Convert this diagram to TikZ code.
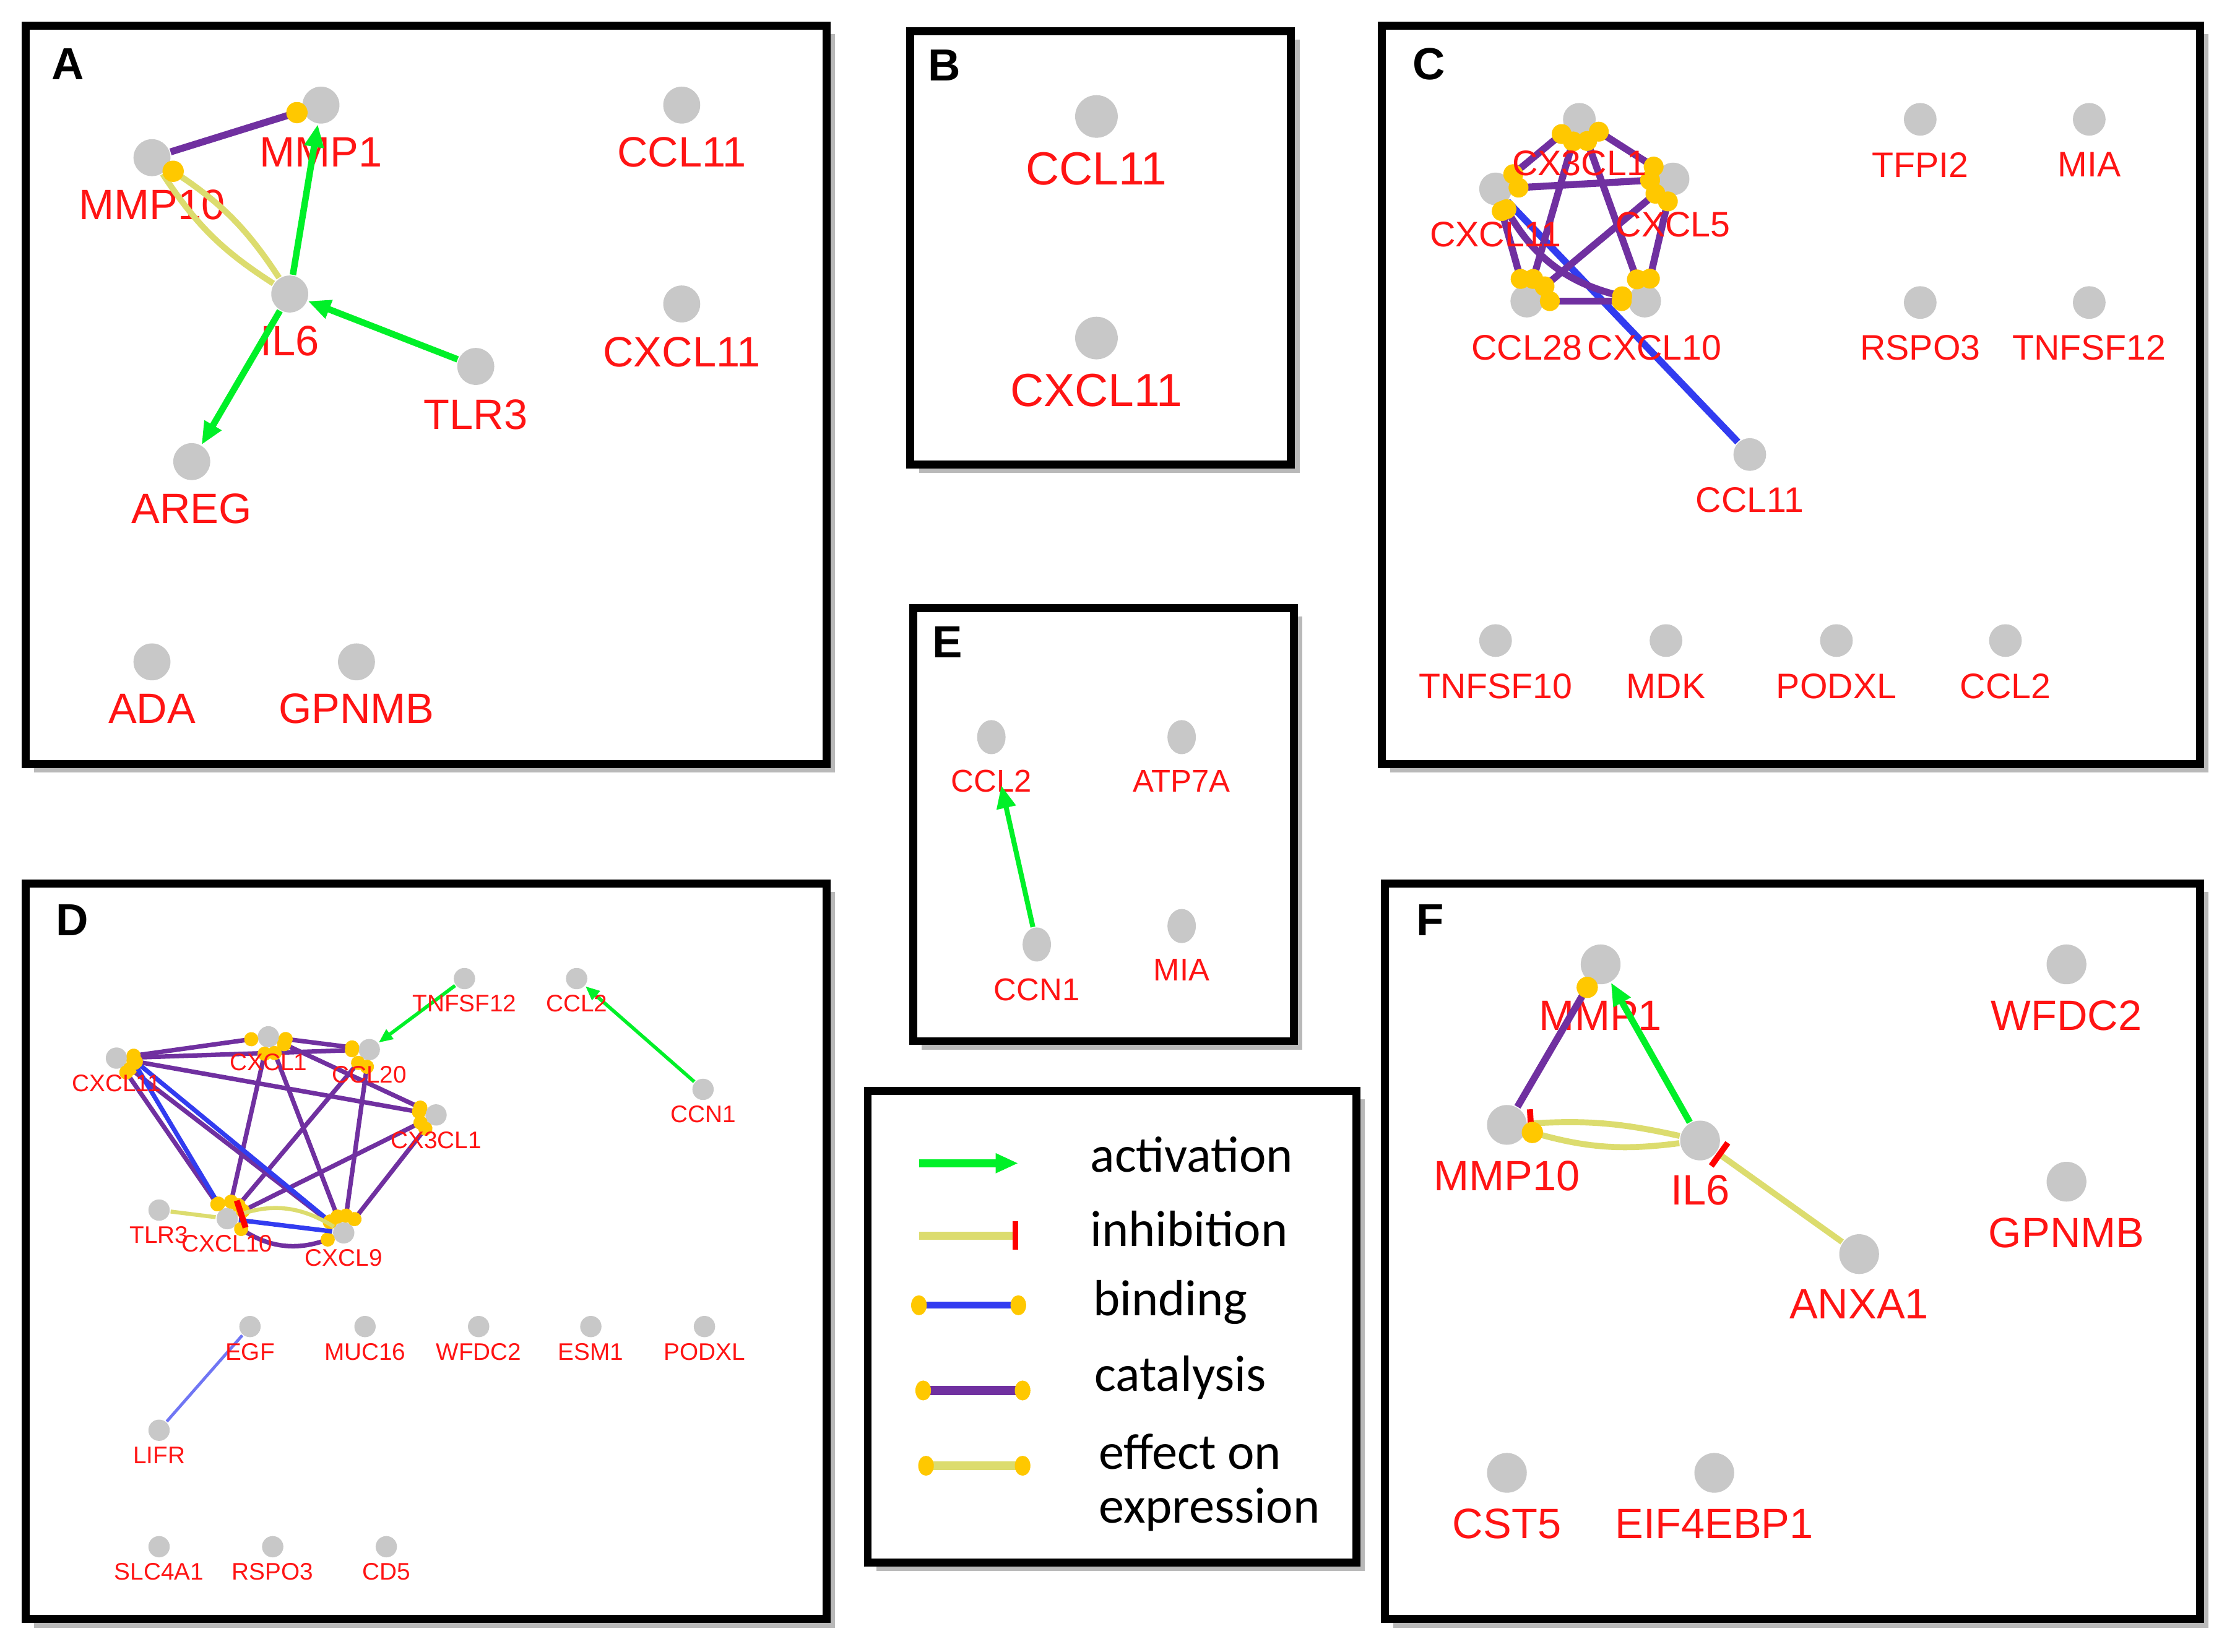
\documentclass[tikz,border=0pt]{standalone}
\usepackage{fontspec}
\setmainfont{Liberation Sans}
\newfontfamily\legf{Carlito}
\usetikzlibrary{shapes.geometric,arrows.meta,decorations.markings}
\definecolor{gnode}{RGB}{200,200,200}
\definecolor{dotc}{RGB}{255,200,0}
\definecolor{cat}{RGB}{112,48,160}
\definecolor{bind}{RGB}{50,60,240}
\definecolor{act}{RGB}{0,240,40}
\definecolor{eff}{RGB}{220,220,110}
\definecolor{lab}{RGB}{255,20,20}
\tikzset{
 g/.style={ellipse,fill=gnode,inner sep=0,minimum width=#1,minimum height=#1},
 g/.default=0.26cm,
 la/.style={text=lab,inner sep=0,font=\fontsize{8.5}{9}\selectfont},
 lb/.style={text=lab,inner sep=0,font=\fontsize{9.3}{10}\selectfont},
 lc/.style={text=lab,inner sep=0,font=\fontsize{7.1}{8}\selectfont},
 ld/.style={text=lab,inner sep=0,font=\fontsize{4.8}{5}\selectfont},
 le/.style={text=lab,inner sep=0,font=\fontsize{6.3}{7}\selectfont},
 pl/.style={font=\bfseries\fontsize{9}{10}\selectfont,inner sep=0},
 frame/.style={line width=1.6pt},
 shadow/.style={fill=gray!55},
 dr/.store in=\dotr, dr=0.075cm,
 dS/.style={postaction={decorate,decoration={markings,mark=at position 0.04cm with {\fill[dotc] (0,0) circle (\dotr);}}}},
 dE/.style={postaction={decorate,decoration={markings,mark=at position -0.04cm with {\fill[dotc] (0,0) circle (\dotr);}}}},
 dB/.style={dS,dE},
 catl/.style={draw=cat,line width=1.4pt},
 catd/.style={draw=cat,line width=0.9pt},
 bindl/.style={draw=bind,line width=1.4pt},
 bindd/.style={draw=bind,line width=0.9pt},
 effl/.style={draw=eff,line width=1.2pt},
 actl/.style={draw=act,line width=1.3pt,-{Triangle[length=0.16cm,width=0.13cm]}},
 actd/.style={draw=act,line width=0.7pt,-{Triangle[length=0.1cm,width=0.08cm]}},
 inh/.style={-{Bar[color=red,width=0.2cm,line width=1.2pt]}},
}
\begin{document}
\begin{tikzpicture}[x=0.01cm,y=-0.01cm]
\useasboundingbox[fill=white] (0,0) rectangle (1568,1163);
% frames
\foreach \a/\b/\c/\d in {18/18/582/538, 641/22/909/327, 973/18/1549/538, 18/622/582/1140, 643/428/911/733, 975/622/1549/1140, 611/768/955/1100}{
 \fill[shadow] (\a+6,\b+6) rectangle (\c+6,\d+6);
 \fill[white] (\a,\b) rectangle (\c,\d);
 \draw[frame] (\a,\b) rectangle (\c,\d);}
\node[pl] (pA) at (48,45) {A};
\node[pl] (pB) at (665,46) {B};
\node[pl] (pC) at (1006,45) {C};
\node[pl] (pD) at (51,648) {D};
\node[pl] (pE) at (667,452) {E};
\node[pl] (pF) at (1007,648) {F};
% ---------- A
\node[g] (a1) at (226,74) {}; \node[la] (a1l) at (226,107) {MMP1};
\node[g] (a2) at (107,111) {}; \node[la] (a2l) at (107,144) {MMP10};
\node[g] (a3) at (204,207) {}; \node[la] (a3l) at (204,240) {IL6};
\node[g] (a4) at (335,258) {}; \node[la] (a4l) at (335,292) {TLR3};
\node[g] (a5) at (135,325) {}; \node[la] (a5l) at (135,358) {AREG};
\node[g] (a6) at (480,74) {}; \node[la] (a6l) at (480,107) {CCL11};
\node[g] (a7) at (480,214) {}; \node[la] (a7l) at (480,248) {CXCL11};
\node[g] (a8) at (107,466) {}; \node[la] (a8l) at (107,499) {ADA};
\node[g] (a9) at (251,466) {}; \node[la] (a9l) at (251,499) {GPNMB};
\draw[effl] (a3) to[bend left=12] (a2);
\draw[effl,dE] (a3) to[bend right=12] (a2);
\draw[catl,dE] (a2) -- (a1);
\draw[actl] (a3) -- (a1);
\draw[actl] (a4) -- (a3);
\draw[actl] (a3) -- (a5);
% ---------- B
\node[g=0.3cm] (b1) at (772,82) {}; \node[lb] (b1l) at (772,119) {CCL11};
\node[g=0.3cm] (b2) at (772,238) {}; \node[lb] (b2l) at (772,275) {CXCL11};
% ---------- C
\node[g=0.23cm] (c1) at (1112,84) {};
\node[g=0.23cm] (c2) at (1178,126) {};
\node[g=0.23cm] (c3) at (1053,133) {};
\node[g=0.23cm] (c4) at (1075,212) {};
\node[g=0.23cm] (c5) at (1158,212) {};
\node[g=0.23cm] (c6) at (1232,320) {};
\draw[bindl] (c3) -- (c6);
\begin{scope}[dr=0.07cm]
\foreach \u/\v in {c1/c2,c1/c3,c1/c4,c1/c5,c3/c2,c3/c4,c2/c5,c2/c4,c4/c5}{\draw[catl,dB] (\u) -- (\v);}
\draw[catl,dB] (c3) to[bend right=25] (c5);
\end{scope}
\node[lc] (c1l) at (1112,115) {CX3CL1};
\node[lc] (c2l) at (1178,158) {CXCL5};
\node[lc] (c3l) at (1053,165) {CXCL11};
\node[lc] (c4l) at (1075,245) {CCL28};
\node[lc] (c5l) at (1165,245) {CXCL10};
\node[lc] (c6l) at (1232,352) {CCL11};
\foreach \n/\x/\y/\t in {c7/1352/84/TFPI2, c8/1471/84/MIA, c9/1352/213/RSPO3, c10/1471/213/TNFSF12, c11/1053/451/TNFSF10, c12/1173/451/MDK, c13/1293/451/PODXL, c14/1412/451/CCL2}{
 \node[g=0.23cm] (\n) at (\x,\y) {}; \node[lc] (\n l) at (\x,\y+32) {\t};}
% ---------- D
\foreach \n/\x/\y in {d1/82/745, d2/189/730, d3/260/739, d4/307/785, d5/112/852, d6/160/858, d7/242/868, d8/327/689, d9/406/689, d10/495/767, d11/176/934, d12/257/934, d13/337/934, d14/416/934, d15/496/934, d16/112/1007, d17/112/1089, d18/192/1089, d19/272/1089}{
 \node[g=0.15cm] (\n) at (\x,\y) {};}
\begin{scope}[dr=0.05cm]
\foreach \u/\v in {d1/d2,d1/d3,d1/d4,d1/d6,d1/d7,d2/d3,d2/d4,d2/d6,d2/d7,d3/d6,d3/d7,d4/d6,d4/d7}{\draw[catd,dB] (\u) -- (\v);}
\draw[catd,dB] (d6) to[bend right=30] (d7);
\draw[bindd,dB] ([xshift=3pt]d1.center) -- (d6);
\draw[bindd,dB] ([xshift=3pt]d1.center) -- (d7);
\end{scope}
\draw[bindd] (d6) -- (d7);
\draw[effl,line width=0.8pt] (d5) -- (d6);
\draw[effl,line width=0.8pt,inh] (d7) to[bend right=25] (d6);
\draw[actd] (d8) -- (d3);
\draw[actd] (d10) -- (d9);
\draw[draw=bind!70,line width=0.6pt] (d16) -- (d11);
\foreach \n/\t in {d1/CXCL11,d2/CXCL1,d3/CCL20,d4/CX3CL1,d5/TLR3,d6/CXCL10,d7/CXCL9,d8/TNFSF12,d9/CCL2,d10/CCN1,d11/EGF,d12/MUC16,d13/WFDC2,d14/ESM1,d15/PODXL,d16/LIFR,d17/SLC4A1,d18/RSPO3,d19/CD5}{
 \node[ld,anchor=north] (\n l) at ([yshift=-0.11cm]\n.center) {\t};}
% ---------- E
\node[g=0.2cm,minimum height=0.24cm] (e1) at (698,519) {}; \node[le] (e1l) at (698,550) {CCL2};
\node[g=0.2cm,minimum height=0.24cm] (e2) at (832,519) {}; \node[le] (e2l) at (832,550) {ATP7A};
\node[g=0.2cm,minimum height=0.24cm] (e3) at (730,665) {}; \node[le] (e3l) at (730,697) {CCN1};
\node[g=0.2cm,minimum height=0.24cm] (e4) at (832,652) {}; \node[le] (e4l) at (832,683) {MIA};
\coordinate (e1t) at (705,553);
\draw[actl,line width=1pt] (e3) -- (e1t);
% ---------- F
\node[g=0.28cm] (f1) at (1127,679) {}; \node[la] (f1l) at (1127,715) {MMP1};
\node[g=0.28cm] (f2) at (1061,792) {}; \node[la] (f2l) at (1061,828) {MMP10};
\node[g=0.28cm] (f3) at (1197,803) {}; \node[la] (f3l) at (1197,838) {IL6};
\node[g=0.28cm] (f4) at (1309,883) {}; \node[la] (f4l) at (1309,918) {ANXA1};
\node[g=0.28cm] (f5) at (1455,679) {}; \node[la] (f5l) at (1455,715) {WFDC2};
\node[g=0.28cm] (f6) at (1455,832) {}; \node[la] (f6l) at (1455,868) {GPNMB};
\node[g=0.28cm] (f7) at (1061,1037) {}; \node[la] (f7l) at (1061,1073) {CST5};
\node[g=0.28cm] (f8) at (1207,1037) {}; \node[la] (f8l) at (1207,1073) {EIF4EBP1};
\draw[catl,dE] (f2) -- (f1);
\draw[actl] (f3) -- (f1);
\draw[effl,inh] (f3) to[bend right=8] (f2);
\draw[effl,dE] (f3) to[bend left=12] (f2);
\draw[effl,inh] (f4) -- (f3);
% ---------- legend
\coordinate (g1a) at (647,819); \coordinate (g1b) at (717,819);
\coordinate (g2a) at (647,870); \coordinate (g2b) at (717,870);
\coordinate (g3a) at (647,919); \coordinate (g3b) at (717,919);
\coordinate (g4a) at (650,979); \coordinate (g4b) at (720,979);
\coordinate (g5a) at (652,1032); \coordinate (g5b) at (720,1032);
\draw[actl,line width=1.6pt] (g1a) -- (g1b);
\draw[effl,line width=1.6pt,inh] (g2a) -- (g2b);
\draw[bindl] (g3a) -- (g3b);
\draw[catl,line width=1.8pt] (g4a) -- (g4b);
\draw[effl,line width=1.8pt] (g5a) -- (g5b);
\foreach \p in {g3a,g3b,g4a,g4b,g5a,g5b}{\fill[dotc] (\p) ellipse (0.055cm and 0.07cm);}
\begin{scope}[every node/.style={anchor=west,inner sep=0,font=\legf\fontsize{10.2}{11}\selectfont}]
\node (t1) at (767,813) {activation};
\node (t2) at (767,865) {inhibition};
\node (t3) at (769,917) {binding};
\node (t4) at (770,970) {catalysis};
\node (t5) at (773,1022) {effect on};
\node (t6) at (773,1063) {expression};
\end{scope}
\end{tikzpicture}
\end{document}
